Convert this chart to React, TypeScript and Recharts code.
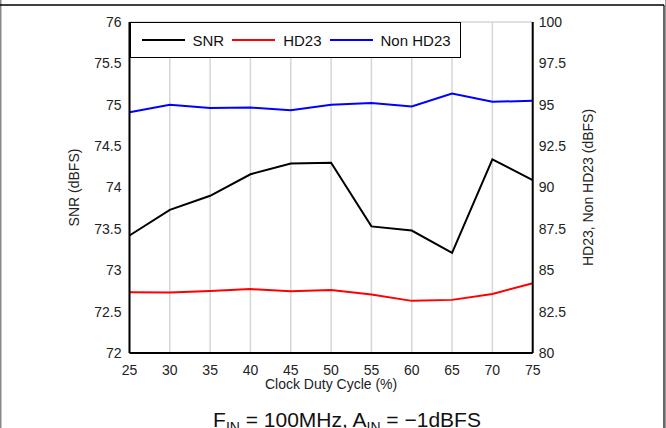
import {
  CartesianGrid,
  ComposedChart,
  Legend,
  Line,
  XAxis,
  YAxis,
} from "recharts";

const DUTY_CYCLE = [25, 30, 35, 40, 45, 50, 55, 60, 65, 70, 75];
const SNR = [73.42, 73.73, 73.9, 74.16, 74.29, 74.3, 73.53, 73.48, 73.21, 74.34, 74.09];
const HD23 = [83.67, 83.66, 83.75, 83.86, 83.73, 83.81, 83.53, 83.15, 83.21, 83.57, 84.22];
const NON_HD23 = [94.55, 95.0, 94.8, 94.83, 94.67, 95.0, 95.1, 94.9, 95.68, 95.18, 95.24];

const X_TICKS = [25, 30, 35, 40, 45, 50, 55, 60, 65, 70, 75];
const X_GRID = [25, 27.5, 30, 32.5, 35, 37.5, 40, 42.5, 45, 47.5, 50, 52.5, 55, 57.5, 60, 62.5, 65, 67.5, 70, 72.5, 75];
const SNR_TICKS = [72, 72.5, 73, 73.5, 74, 74.5, 75, 75.5, 76];
const SNR_GRID = [72, 72.25, 72.5, 72.75, 73, 73.25, 73.5, 73.75, 74, 74.25, 74.5, 74.75, 75, 75.25, 75.5, 75.75, 76];
const HD_TICKS = [80, 82.5, 85, 87.5, 90, 92.5, 95, 97.5, 100];

const SERIES = [
  { key: "snr", label: "SNR", color: "#000000", axis: "left" },
  { key: "hd23", label: "HD23", color: "#ff0000", axis: "right" },
  { key: "nonHd23", label: "Non HD23", color: "#0000ff", axis: "right" },
];

const data = DUTY_CYCLE.map((d, i) => ({
  duty: d,
  snr: SNR[i],
  hd23: HD23[i],
  nonHd23: NON_HD23[i],
}));

const FONT = "Arial, 'Liberation Sans', sans-serif";
const TICK = { fontFamily: FONT, fontSize: 14, fill: "#222" };
const AXIS_LINE = { stroke: "#000", strokeWidth: 2 };

function LegendBox() {
  return (
    <div
      style={{
        boxSizing: "border-box",
        width: 331,
        height: 36,
        border: "1.5px solid #000",
        background: "#fff",
        display: "flex",
        alignItems: "center",
        paddingLeft: 11,
        fontFamily: FONT,
        fontSize: 15,
        color: "#111",
      }}
    >
      {SERIES.map((s) => (
        <div key={s.key} style={{ display: "flex", alignItems: "center", marginRight: 8 }}>
          <div style={{ width: 43, height: 2, background: s.color, marginRight: 8 }} />
          <span>{s.label}</span>
        </div>
      ))}
    </div>
  );
}

function VerticalTitle({ viewBox, value, dx }: any) {
  const x = viewBox.x + dx;
  const y = viewBox.y + viewBox.height / 2;
  return (
    <text
      x={x}
      y={y}
      transform={`rotate(-90 ${x} ${y})`}
      textAnchor="middle"
      dominantBaseline="central"
      fontFamily={FONT}
      fontSize={14}
      fill="#222"
    >
      {value}
    </text>
  );
}

export default function App() {
  return (
    <div style={{ position: "absolute", left: 0, top: 0, width: 666, height: 428, background: "#fff" }}>
      <ComposedChart width={666} height={428} data={data} margin={{ top: 22, right: 0, bottom: 0, left: 0 }}>
        <XAxis xAxisId="grid" dataKey="duty" type="number" domain={[25, 75]} ticks={X_GRID} hide />
        <YAxis yAxisId="gridY" type="number" domain={[72, 76]} ticks={SNR_GRID} hide width={0} />
        <CartesianGrid xAxisId="grid" yAxisId="gridY" stroke="#d6d6d6" strokeWidth={1.5} />
        <XAxis
          dataKey="duty"
          type="number"
          domain={[25, 75]}
          ticks={X_TICKS}
          height={75}
          tick={TICK}
          tickLine={false}
          tickMargin={6}
          axisLine={AXIS_LINE}
          label={{
            value: "Clock Duty Cycle (%)",
            position: "insideTop",
            offset: 26,
            style: { fontFamily: FONT, fontSize: 14, fill: "#222" },
          }}
        />
        <XAxis
          xAxisId="top"
          orientation="top"
          dataKey="duty"
          type="number"
          domain={[25, 75]}
          height={0}
          tick={false}
          tickLine={false}
          axisLine={AXIS_LINE}
        />
        <YAxis
          yAxisId="left"
          type="number"
          domain={[72, 76]}
          ticks={SNR_TICKS}
          width={129.5}
          tick={TICK}
          tickLine={false}
          axisLine={AXIS_LINE}
          label={<VerticalTitle value="SNR (dBFS)" dx={74} />}
        />
        <YAxis
          yAxisId="right"
          orientation="right"
          type="number"
          domain={[80, 100]}
          ticks={HD_TICKS}
          width={133.3}
          tick={TICK}
          tickLine={false}
          tickSize={4}
          axisLine={AXIS_LINE}
          label={<VerticalTitle value="HD23, Non HD23 (dBFS)" dx={55.5} />}
        />
        <Legend
          layout="horizontal"
          verticalAlign="middle"
          align="center"
          content={() => <LegendBox />}
          wrapperStyle={{ left: 129.5, top: 22, width: 331, height: 36 }}
        />
        {SERIES.map((s) => (
          <Line
            key={s.key}
            yAxisId={s.axis}
            dataKey={s.key}
            name={s.label}
            stroke={s.color}
            strokeWidth={2}
            dot={false}
            activeDot={false}
            isAnimationActive={false}
          />
        ))}
      </ComposedChart>
      <svg width={666} height={428} style={{ position: "absolute", left: 0, top: 0, pointerEvents: "none" }}>
        <line x1={0.75} y1={0} x2={0.75} y2={428} stroke="#888" strokeWidth={1.5} />
        <line x1={0} y1={5} x2={664} y2={5} stroke="#000" strokeWidth={1.5} />
        <line x1={664} y1={5} x2={664} y2={428} stroke="#000" strokeWidth={1.2} />
        <line x1={665.5} y1={0} x2={665.5} y2={428} stroke="#999" strokeWidth={1} />
        <text x={347} y={427} textAnchor="middle" fontFamily={FONT} fontSize={21} fill="#111">
          F<tspan fontSize={14} dy={5}>IN</tspan>
          <tspan dy={-5}> = 100MHz, A</tspan>
          <tspan fontSize={14} dy={5}>IN</tspan>
          <tspan dy={-5}> = −1dBFS</tspan>
        </text>
      </svg>
    </div>
  );
}
